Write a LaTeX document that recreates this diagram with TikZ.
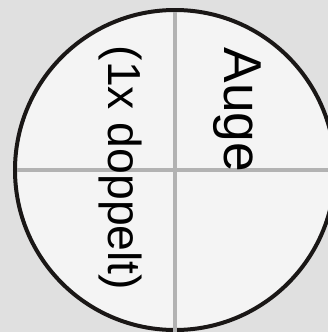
\documentclass[tikz,border=0pt]{standalone}
\usepackage{fontspec}
\setmainfont{Liberation Sans}
\usepackage{tikz}
\usetikzlibrary{positioning, calc}
\definecolor{cBack}{RGB}{224,224,224}
\definecolor{cDisc}{RGB}{244,244,244}
\definecolor{cCross}{RGB}{178,178,178}
\definecolor{cRim}{RGB}{26,23,22}

\begin{document}
\begin{tikzpicture}[x=1bp, y=-1bp,
		rim/.style={draw=cRim, fill=cDisc, line width=4bp},
		cross/.style={draw=cCross, line width=4bp},
		lbl/.style={rotate=-90, inner sep=0pt}]
	\fill[cBack] (0,0) rectangle (328,332);
	\useasboundingbox (0,0) rectangle (328,332);
	\clip (0,0) rectangle (328,332);
	\coordinate (M) at (175,170);
	\draw[rim] (M) circle (160);
	% Fadenkreuz
	\coordinate (T) at (175,12);
	\coordinate (B) at (175,332);
	\coordinate (L) at (17,170);
	\coordinate (R) at (328,170);
	\draw[cross] (T) -- (B);
	\draw[cross] (L) -- (R);
	\node[lbl, font=\fontsize{53.5}{53.5}\selectfont] (auge) at (237,110) {Auge};
	\node[lbl, font=\fontsize{46.5}{46.5}\selectfont] (doppelt) at (120,168) {(1x doppelt)};
\end{tikzpicture}
\end{document}
